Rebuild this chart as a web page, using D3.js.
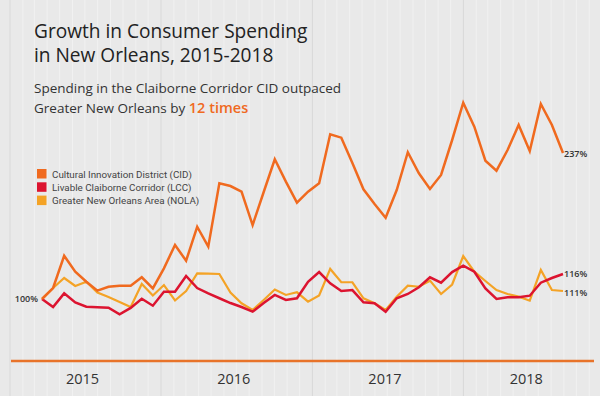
<!DOCTYPE html>
<html>
<head>
<meta charset="utf-8">
<script src="https://cdn.jsdelivr.net/npm/d3@7"></script>
<style>
html,body{margin:0;padding:0;background:#e9e9e9;}
svg{display:block;}
text{font-family:"Open Sans","Noto Sans",sans-serif;}
</style>
</head>
<body>
<svg id="chart" width="600" height="396"></svg>
<script>
// ---- data ----
const years = ["2015","2016","2017","2018"];
const months = d3.range(48).map(i => new Date(2015, i, 1)); // Jan 2015 - Dec 2018
const seriesNames = ["Cultural Innovation District (CID)", "Livable Claiborne Corridor (LCC)", "Greater New Orleans Area (NOLA)"];
const seriesKeys = ["CID","LCC","NOLA"];
const cidValues = [100,110.3,140.6,125.6,116.2,107.8,111.5,112.5,112.5,120.4,110.0,128.8,
  150.7,135.9,167.8,149.1,208.6,206.0,200.7,169.4,200.4,231.1,210.1,190.4,
  200.7,208.6,254.6,251.4,227.7,202.9,189.1,176.3,202.3,237.7,218.0,203.2,
  216.4,249.2,284.2,261.7,229.8,220.4,239.8,263.3,238.9,283.0,263.3,237];
const lccValues = [100,92.5,105.3,96.8,92.8,92.2,91.8,85.6,91.6,100.3,93.7,106.8,
  106.8,121.6,110.3,105.3,100.7,96.2,92.5,88.1,96.2,103.8,99.1,100.7,
  116.2,125.3,114.7,107.5,108.4,96.9,96.0,88.1,100.7,104.7,111.0,120.4,
  115.3,125.3,131.2,125.6,110.0,100.0,101.6,101.6,103.1,115.3,119.7,123.5];
const nolaValues = [100,110.3,119.7,112.2,116.2,106.1,101.9,97.2,92.5,114.1,103.3,113.1,
  98.6,107.5,124.1,123.9,123.5,106.1,96.0,89.7,99.1,108.9,103.8,106.3,
  97.5,103.3,128.2,115.7,115.7,100.7,96.0,89.7,102.2,112.5,111.5,117.2,
  104.7,113.6,140.3,125.6,116.9,108.4,104.7,102.2,98.4,127.2,108.4,107.5];
const endLabels = ["237%","116%","111%"];
const startLabel = "100%";
const colors = {CID:"#f06a1f", LCC:"#dc1430", NOLA:"#f4a326"};

// ---- layout ----
const svg = d3.select("#chart");
const W = 600, H = 396;
svg.append("rect").attr("width",W).attr("height",H).attr("fill","#e9e9e9");

// time scale for the background grid / year axis
const xAxisScale = d3.scaleTime()
  .domain([new Date(2015,0,1), new Date(2018,10,15)])
  .range([10, 595]);
const gridMonths = d3.timeMonth.range(new Date(2015,0,1), new Date(2018,11,1));
svg.append("g").selectAll("line").data(gridMonths).join("line")
  .attr("x1", d => xAxisScale(d)).attr("x2", d => xAxisScale(d))
  .attr("y1", 0).attr("y2", H)
  .attr("stroke", d => d.getMonth() === 0 ? "#d9d9d9" : "#f1f1f1")
  .attr("stroke-width", 1);

// data scales
const x = d3.scalePoint().domain(months.map(d => +d)).range([42, 563]);
const y = d3.scaleLinear().domain([100, 237]).range([299, 153]);

// axis line
svg.append("line").attr("x1", 11).attr("x2", 594).attr("y1", 361).attr("y2", 361)
  .attr("stroke", "#e8732a").attr("stroke-width", 2.5);

// year labels
const yearStart = years.map(yy => new Date(+yy, 0, 1));
svg.append("g").selectAll("text").data(years).join("text")
  .attr("x", (d,i) => {
    const a = xAxisScale(yearStart[i]);
    const b = Math.min(xAxisScale(new Date(+d+1,0,1)), 595);
    return (a+b)/2 - 3;
  })
  .attr("y", 384)
  .attr("text-anchor","middle")
  .attr("font-size", 14.5)
  .attr("fill","#333")
  .text(d => d);

// lines
const line = d3.line().x((d,i) => x(+months[i])).y(d => y(d));
const seriesData = {CID: cidValues, LCC: lccValues, NOLA: nolaValues};
["NOLA","LCC","CID"].forEach(k => {
  svg.append("path").datum(seriesData[k])
    .attr("d", line).attr("fill","none")
    .attr("stroke", colors[k])
    .attr("stroke-width", k === "NOLA" ? 2.2 : 2.5)
    .attr("stroke-linejoin","miter");
});

// start / end labels
svg.append("text").attr("x", 38).attr("y", y(100) + 3).attr("text-anchor","end")
  .attr("font-size", 9).attr("font-weight", 600).attr("fill","#333").text(startLabel);
const endY = [y(cidValues[47]) + 4, y(lccValues[47]) + 3, y(nolaValues[47]) + 5];
endLabels.forEach((t,i) => {
  svg.append("text").attr("x", 564).attr("y", endY[i])
    .attr("font-size", 9).attr("font-weight", 600).attr("fill","#333").text(t);
});

// legend
const lg = svg.append("g").attr("transform","translate(37,169)");
seriesKeys.forEach((k,i) => {
  lg.append("rect").attr("x",0).attr("y", i*13.3).attr("width",9.5).attr("height",9.5).attr("fill", colors[k]);
  lg.append("text").attr("x",15).attr("y", i*13.3 + 8.5)
    .style("font-family","Roboto, sans-serif")
    .attr("font-size", 9.8).attr("fill","#444").text(seriesNames[i]);
});

// title
svg.append("text").attr("x",34).attr("y",37.5).attr("font-size",19.1).attr("fill","#222")
  .text("Growth in Consumer Spending");
svg.append("text").attr("x",34).attr("y",61.5).attr("font-size",19.1).attr("fill","#222")
  .text("in New Orleans, 2015-2018");

// subtitle
svg.append("text").attr("x",34).attr("y",93).attr("font-size",13.5).attr("fill","#333")
  .text("Spending in the Claiborne Corridor CID outpaced");
const l2 = svg.append("text").attr("x",34).attr("y",112.5).attr("font-size",13.5).attr("fill","#333");
l2.append("tspan").text("Greater New Orleans by ");
l2.append("tspan").attr("fill","#f06a1f").attr("font-size",14.5).attr("font-weight",600).text("12 times");
</script>
</body>
</html>
